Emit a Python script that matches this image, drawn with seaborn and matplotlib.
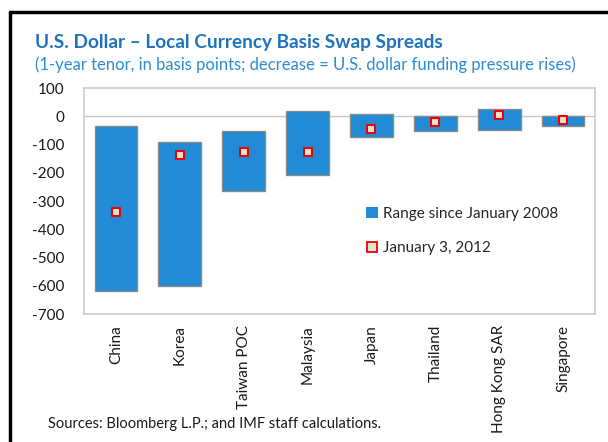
import matplotlib
matplotlib.use("Agg")
import matplotlib.pyplot as plt
import seaborn as sns
import pandas as pd
from matplotlib.lines import Line2D
from matplotlib.patches import Patch

countries = ["China", "Korea", "Taiwan POC", "Malaysia", "Japan", "Thailand", "Hong Kong SAR", "Singapore"]
range_high = [-35, -90, -52, 18, 9, 1, 25, 1]
range_low = [-618, -600, -264, -208, -75, -53, -48, -35]
jan_2012 = [-339, -137, -126, -126, -46, -19, 6, -12]

df = pd.DataFrame({"country": countries, "high": range_high, "low": range_low, "jan": jan_2012})
df["span"] = df["high"] - df["low"]

sns.set_style("white")
plt.rcParams["font.family"] = ["Lato", "DejaVu Sans"]
plt.rcParams["axes.unicode_minus"] = False

fig = plt.figure(figsize=(6.08, 4.42), dpi=100)
ax = fig.add_axes([84 / 608, 1 - 314 / 442, (595 - 84) / 608, (314 - 88) / 442])

blue = "#218bd5"
sns.barplot(data=df, x="country", y="span", bottom=df["low"].to_numpy(), color=blue,
            saturation=1, width=0.67, edgecolor="#8a8a8a", linewidth=1, ax=ax)
sns.scatterplot(data=df, x="country", y="jan", marker="s", s=40, color="#e3e6c6",
                edgecolor="#e8000b", linewidth=1.5, zorder=5, ax=ax)

ax.axhline(0, color="#c8c8c8", lw=1, zorder=0)
ax.set_ylim(-700, 100)
ax.set_yticks(range(-700, 101, 100))
ax.set_xlim(-0.5, 7.5)
ax.set_xlabel("")
ax.set_ylabel("")
ax.tick_params(axis="y", labelsize=11, colors="#1a1a1a", length=0, pad=14)
ax.tick_params(axis="x", labelsize=11, colors="#1a1a1a", length=0, pad=8, labelrotation=90)
for s in ax.spines.values():
    s.set_color("#cccccc")
    s.set_linewidth(1.2)

handles = [Patch(facecolor=blue, edgecolor="none"),
           Line2D([], [], marker="s", ls="none", markersize=7, markerfacecolor="#e3e6c6",
                  markeredgecolor="#e8000b", markeredgewidth=1.3)]
ax.legend(handles, ["Range since January 2008", "January 3, 2012"], frameon=False, fontsize=11,
          loc="upper left", bbox_to_anchor=(0.54, 0.50), handlelength=0.8, handletextpad=0.3,
          labelspacing=1.3, borderaxespad=0)

fig.text(35 / 608, 1 - 48 / 442, "U.S. Dollar \u2013 Local Currency Basis Swap Spreads",
         color="#1f73bd", fontsize=13.7, fontweight="bold")
fig.text(35 / 608, 1 - 70 / 442,
         "(1-year tenor, in basis points; decrease = U.S. dollar funding pressure rises)",
         color="#2a8dd4", fontsize=12)
fig.text(48 / 608, 1 - 428 / 442, "Sources: Bloomberg L.P.; and IMF staff calculations.",
         color="#1a1a1a", fontsize=10.5)

# black frame around the exhibit
fig.add_artist(Line2D([10 / 608, 10 / 608], [0, 1 - 12 / 442], color="black", lw=2.5))
fig.add_artist(Line2D([10 / 608, 1], [1 - 12 / 442, 1 - 12 / 442], color="black", lw=2.5))

fig.savefig("out.png", dpi=100)
